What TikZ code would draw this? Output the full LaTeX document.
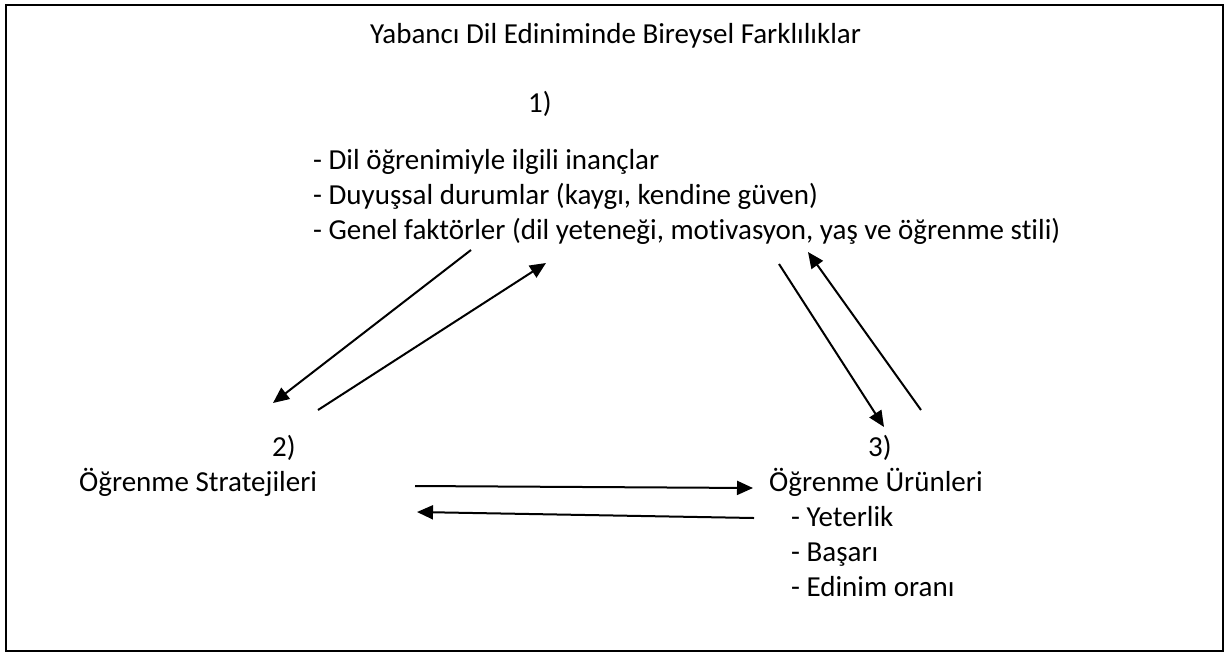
\documentclass[tikz,border=0pt]{standalone}
\usepackage{fontspec}
\setmainfont{Carlito}[Ligatures=CommonOff]
\usetikzlibrary{arrows.meta}
\begin{document}
\begin{tikzpicture}[x=1pt,y=-1pt,
  lbl/.style={anchor=base west,inner sep=0pt,font=\fontsize{29}{35}\selectfont},
  conn/.style={line width=2pt,-{Triangle[length=16pt,width=14pt]}}]
\useasboundingbox (0,0) rectangle (1226,654);
\draw[line width=2pt] (6,5) rectangle (1223,651);
\node[lbl] (title) at (370,43) {Yabancı Dil Ediniminde Bireysel Farklılıklar};
\node[lbl] (n1) at (528,112) {1)};
\node[lbl] (b1) at (313,169) {- Dil öğrenimiyle ilgili inançlar};
\node[lbl] (b2) at (313,204) {- Duyuşsal durumlar (kaygı, kendine güven)};
\node[lbl] (b3) at (313,239) {- Genel faktörler (dil yeteneği, motivasyon, yaş ve öğrenme stili)};
\node[lbl] (n2) at (272,456) {2)};
\node[lbl] (s2) at (79,491) {Öğrenme Stratejileri};
\node[lbl] (n3) at (868,456) {3)};
\node[lbl] (s3) at (769,491) {Öğrenme Ürünleri};
\node[lbl] (r1) at (791,526) {- Yeterlik};
\node[lbl] (r2) at (791,561) {- Başarı};
\node[lbl] (r3) at (791,596) {- Edinim oranı};
\coordinate (a1s) at (471,250); \coordinate (a1e) at (273,403);
\coordinate (a2s) at (318,410); \coordinate (a2e) at (546,263);
\coordinate (a3s) at (779,264); \coordinate (a3e) at (884,427);
\coordinate (a4s) at (921,410); \coordinate (a4e) at (808,252);
\coordinate (a5s) at (415,486); \coordinate (a5e) at (753,488);
\coordinate (a6s) at (754,518); \coordinate (a6e) at (417,512);
\draw[conn] (a1s) -- (a1e);
\draw[conn] (a2s) -- (a2e);
\draw[conn] (a3s) -- (a3e);
\draw[conn] (a4s) -- (a4e);
\draw[conn] (a5s) -- (a5e);
\draw[conn] (a6s) -- (a6e);
\end{tikzpicture}
\end{document}
